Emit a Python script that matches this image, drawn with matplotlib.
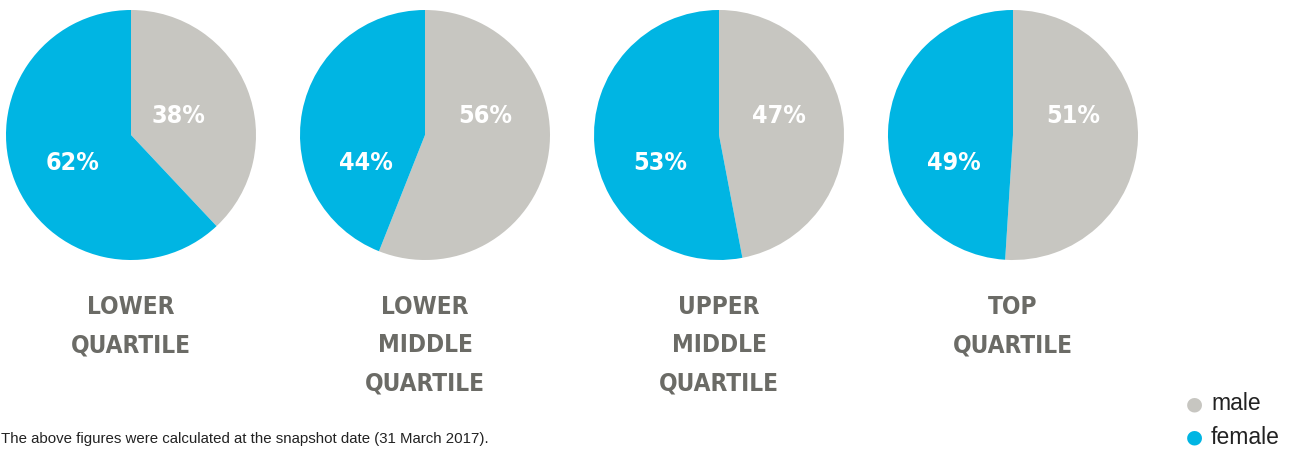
import matplotlib
matplotlib.use("Agg")
import matplotlib.pyplot as plt

# Data
quartiles = ["LOWER\nQUARTILE", "LOWER\nMIDDLE\nQUARTILE", "UPPER\nMIDDLE\nQUARTILE", "TOP\nQUARTILE"]
male_pct = [38, 56, 47, 51]
female_pct = [62, 44, 53, 49]
series = ["male", "female"]
footnote = "The above figures were calculated at the snapshot date (31 March 2017)."

male_color = "#c7c6c1"
female_color = "#00b5e3"
label_color = "#6b6b66"

cond_font = "DejaVu Sans"
stretch = "condensed"

W, H = 1290, 449
fig = plt.figure(figsize=(W / 100, H / 100), dpi=100)

r = 125
cy = 135
centers_x = [131, 425, 719, 1013]

for i, q in enumerate(quartiles):
    cx = centers_x[i]
    ax = fig.add_axes([(cx - r) / W, (H - cy - r) / H, 2 * r / W, 2 * r / H])
    ax.pie([male_pct[i], female_pct[i]], colors=[male_color, female_color],
           startangle=90, counterclock=False, radius=1,
           wedgeprops=dict(linewidth=0))
    ax.set_xlim(-1, 1)
    ax.set_ylim(-1, 1)
    ax.set_aspect("equal")
    ax.axis("off")
    mx = 0.38 if i == 0 else 0.48
    ax.text(mx, 0.15, f"{male_pct[i]}%", color="white", fontsize=18,
            fontweight="bold", family=cond_font, fontstretch=stretch,
            ha="center", va="center")
    ax.text(-0.47, -0.22, f"{female_pct[i]}%", color="white", fontsize=18,
            fontweight="bold", family=cond_font, fontstretch=stretch,
            ha="center", va="center")
    # quartile name under each pie
    for j, line in enumerate(q.split("\n")):
        fig.text(cx / W, 1 - (307 + 38 * j) / H, line, color=label_color,
                 fontsize=17.5, fontweight="bold", family=cond_font, fontstretch=stretch,
                 ha="center", va="center")

# legend
for k, (name, col) in enumerate(zip(series, [male_color, female_color])):
    y = 1 - (404 + 33 * k) / H
    fig.text(1194 / W, y, "\u25cf", color=col, fontsize=14, ha="center", va="center")
    fig.text(1211 / W, y, name, color="#222222", fontsize=16.5, ha="left", va="center",
             family="Liberation Sans")

fig.text(1 / W, 3 / H, footnote, color="#222222", fontsize=10.8,
         family="Liberation Sans", ha="left", va="bottom")

fig.savefig("out.png", dpi=100)
